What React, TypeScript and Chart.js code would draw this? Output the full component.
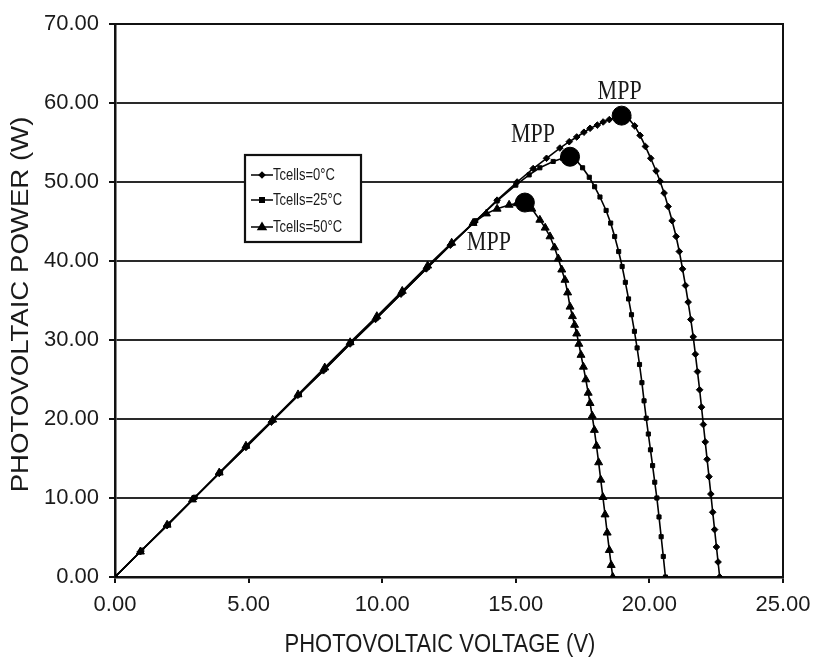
import React, { useEffect, useRef } from 'react';
import { Chart, registerables } from 'chart.js';

Chart.register(...registerables);

// ---- Data ----
const seriesLabels = ['Tcells=0°C', 'Tcells=25°C', 'Tcells=50°C'];

const voltage0 = [0, 0.95, 1.95, 2.95, 3.9, 4.9, 5.85, 6.85, 7.8, 8.8, 9.75, 10.7, 11.65, 12.55, 13.45, 14.3, 15.05, 15.65, 16.15, 16.65, 17.0, 17.28, 17.55, 17.78, 18.05, 18.27, 18.5, 18.75, 18.96, 19.2, 19.45, 19.65, 19.85, 20.05, 20.25, 20.4, 20.55, 20.7, 20.85, 21.0, 21.12, 21.24, 21.35, 21.45, 21.55, 21.64, 21.72, 21.8, 21.88, 21.95, 22.02, 22.09, 22.16, 22.23, 22.3, 22.37, 22.44, 22.51, 22.57, 22.63];
const power0 = [0, 3.2, 6.5, 9.9, 13.1, 16.4, 19.6, 23.0, 26.1, 29.5, 32.6, 35.8, 39.0, 42.0, 44.9, 47.7, 50.0, 51.7, 53.0, 54.3, 55.1, 55.7, 56.3, 56.8, 57.2, 57.6, 57.9, 58.2, 58.4, 58.1, 57.1, 55.9, 54.5, 53.0, 51.4, 50.1, 48.6, 46.9, 45.1, 43.1, 41.2, 39.0, 36.9, 34.8, 32.6, 30.4, 28.2, 26.0, 23.7, 21.5, 19.3, 17.1, 14.9, 12.7, 10.5, 8.2, 6.0, 3.8, 1.9, 0];

const voltage25 = [0, 1.0, 2.0, 3.0, 3.95, 4.95, 5.9, 6.9, 7.85, 8.85, 9.8, 10.75, 11.7, 12.6, 13.5, 14.3, 15.0, 15.5, 15.9, 16.4, 16.75, 17.03, 17.25, 17.5, 17.75, 17.95, 18.15, 18.38, 18.55, 18.7, 18.85, 18.98, 19.1, 19.22, 19.33, 19.44, 19.54, 19.63, 19.72, 19.8, 19.88, 19.96, 20.04, 20.12, 20.2, 20.28, 20.36, 20.44, 20.52, 20.6];
const power25 = [0, 3.4, 6.7, 10.1, 13.3, 16.6, 19.8, 23.1, 26.3, 29.7, 32.8, 36.0, 39.2, 42.2, 45.1, 47.6, 49.6, 50.9, 51.8, 52.6, 53.0, 53.2, 52.8, 51.8, 50.6, 49.4, 48.1, 46.4, 44.8, 43.1, 41.2, 39.3, 37.3, 35.2, 33.2, 31.1, 29.0, 26.9, 24.6, 22.3, 20.1, 18.1, 16.1, 14.1, 12.0, 10.0, 7.6, 5.1, 2.6, 0];

const voltage50 = [0, 0.95, 1.95, 2.9, 3.9, 4.9, 5.9, 6.85, 7.85, 8.8, 9.8, 10.75, 11.7, 12.6, 13.4, 13.9, 14.3, 14.75, 15.05, 15.34, 15.6, 15.9, 16.1, 16.28, 16.45, 16.59, 16.72, 16.84, 16.94, 17.03, 17.12, 17.2, 17.28, 17.36, 17.44, 17.53, 17.62, 17.71, 17.78, 17.86, 17.94, 18.02, 18.1, 18.18, 18.26, 18.34, 18.42, 18.5, 18.57, 18.63];
const power50 = [0, 3.2, 6.6, 9.8, 13.2, 16.6, 19.9, 23.1, 26.5, 29.7, 33.0, 36.2, 39.4, 42.3, 44.8, 46.0, 46.6, 47.1, 47.3, 47.4, 46.6, 45.2, 44.2, 43.1, 41.7, 40.3, 38.9, 37.6, 36.0, 34.2, 33.0, 31.9, 30.8, 29.5, 28.1, 26.6, 25.0, 23.3, 22.0, 20.4, 18.6, 16.6, 14.5, 12.3, 10.1, 7.9, 5.6, 3.4, 1.5, 0];

const mppVoltage = [18.96, 17.03, 15.34];
const mppPower = [58.4, 53.2, 47.4];
const mppText = 'MPP';

const xTitle = 'PHOTOVOLTAIC VOLTAGE (V)';
const yTitle = 'PHOTOVOLTAIC POWER (W)';

const SANS = '"Liberation Sans", Arial, sans-serif';
const SERIF = '"Liberation Serif", "Times New Roman", serif';
const INK = '#1a1a1a';

function toPoints(v: number[], p: number[]) {
  return v.map((x, i) => ({ x, y: p[i] }));
}

function drawMarker(ctx: CanvasRenderingContext2D, kind: number, x: number, y: number) {
  ctx.beginPath();
  if (kind === 0) {
    const r = 3.8;
    ctx.moveTo(x, y - r); ctx.lineTo(x + r, y); ctx.lineTo(x, y + r); ctx.lineTo(x - r, y); ctx.closePath();
  } else if (kind === 1) {
    const r = 3;
    ctx.rect(x - r, y - r, 2 * r, 2 * r);
  } else {
    const r = 5.5;
    ctx.moveTo(x, y - r); ctx.lineTo(x + r * 0.95, y + r * 0.6); ctx.lineTo(x - r * 0.95, y + r * 0.6); ctx.closePath();
  }
  ctx.fill();
}

const overlayPlugin = {
  id: 'overlay',
  afterDatasetsDraw(chart: any) {
    const { ctx, chartArea: a, scales } = chart;
    ctx.save();
    // top & right border of plot box
    ctx.strokeStyle = '#111';
    ctx.lineWidth = 2;
    ctx.beginPath();
    ctx.moveTo(a.left, a.top);
    ctx.lineTo(a.right, a.top);
    ctx.lineTo(a.right, a.bottom);
    ctx.stroke();

    // MPP labels
    const offsets = [[-2, -24], [-37, -22], [-36, 40]];
    ctx.fillStyle = INK;
    ctx.textAlign = 'center';
    ctx.textBaseline = 'middle';
    ctx.font = `22px ${SERIF}`;
    mppVoltage.forEach((v, i) => {
      const px = scales.x.getPixelForValue(v) + offsets[i][0];
      const py = scales.y.getPixelForValue(mppPower[i]) + offsets[i][1];
      ctx.save();
      ctx.translate(px, py);
      ctx.scale(1, 1.25);
      ctx.fillText(mppText, 0, 0);
      ctx.restore();
    });

    // Legend box
    const lx = a.left + 130, ly = a.top + 131, lw = 116, lh = 87;
    ctx.fillStyle = '#fff';
    ctx.fillRect(lx, ly, lw, lh);
    ctx.strokeStyle = '#111';
    ctx.lineWidth = 2.2;
    ctx.strokeRect(lx, ly, lw, lh);
    const rows = [20, 45, 72];
    seriesLabels.forEach((label, i) => {
      const y = ly + rows[i];
      ctx.strokeStyle = '#000';
      ctx.lineWidth = 1.5;
      ctx.beginPath();
      ctx.moveTo(lx + 6, y);
      ctx.lineTo(lx + 28, y);
      ctx.stroke();
      ctx.fillStyle = '#000';
      drawMarker(ctx, i, lx + 17, y);
      ctx.fillStyle = INK;
      ctx.textAlign = 'left';
      ctx.textBaseline = 'middle';
      ctx.font = `13px ${SANS}`;
      ctx.save();
      ctx.translate(lx + 28, y + 1);
      ctx.scale(1, 1.2);
      ctx.fillText(label, 0, 0);
      ctx.restore();
    });
    ctx.restore();
  },
  afterDraw(chart: any) {
    const { ctx, chartArea: a } = chart;
    ctx.save();
    ctx.fillStyle = INK;
    ctx.textAlign = 'center';
    ctx.textBaseline = 'middle';
    // x title
    ctx.save();
    ctx.translate((a.left + a.right) / 2 - 9, a.bottom + 68);
    ctx.scale(1, 1.2);
    ctx.font = `22px ${SANS}`;
    ctx.fillText(xTitle, 0, 0);
    ctx.restore();
    // y title
    ctx.save();
    ctx.translate(22, (a.top + a.bottom) / 2 + 4);
    ctx.rotate(-Math.PI / 2);
    ctx.scale(1.2, 1);
    ctx.font = `23px ${SANS}`;
    ctx.fillText(yTitle, 0, 0);
    ctx.restore();
    ctx.restore();
  },
};

export default function App() {
  const canvasRef = useRef<HTMLCanvasElement | null>(null);

  useEffect(() => {
    if (!canvasRef.current) return;
    const lineBase = {
      showLine: true,
      borderColor: '#000',
      borderWidth: 1.6,
      pointBackgroundColor: '#000',
      pointBorderColor: '#000',
      pointBorderWidth: 1,
      tension: 0,
    };
    const chart = new Chart(canvasRef.current, {
      type: 'scatter',
      data: {
        datasets: [
          { ...lineBase, label: seriesLabels[0], data: toPoints(voltage0, power0), pointStyle: 'rectRot', pointRadius: 3.3 },
          { ...lineBase, label: seriesLabels[1], data: toPoints(voltage25, power25), pointStyle: 'rect', pointRadius: 2.9 },
          { ...lineBase, label: seriesLabels[2], data: toPoints(voltage50, power50), pointStyle: 'triangle', pointRadius: 4.6 },
          {
            label: mppText,
            data: toPoints(mppVoltage, mppPower),
            showLine: false,
            pointStyle: 'circle',
            pointRadius: 9.5,
            pointBackgroundColor: '#000',
            pointBorderColor: '#000',
          },
        ],
      },
      options: {
        animation: false,
        responsive: false,
        events: [],
        layout: { padding: { top: 24, right: 30, left: 0, bottom: 0 } },
        plugins: {
          legend: { display: false },
          tooltip: { enabled: false },
          title: { display: false },
        },
        scales: {
          x: {
            type: 'linear',
            min: 0,
            max: 25,
            ticks: {
              stepSize: 5,
              callback: (v: any) => Number(v).toFixed(2),
              font: { family: SANS, size: 22 },
              color: INK,
              padding: 9,
              maxRotation: 0,
            },
            grid: { drawOnChartArea: false, drawTicks: true, tickLength: 6, color: '#111', lineWidth: 2 },
            border: { color: '#111', width: 2.5 },
            afterFit: (s: any) => { s.height = 85; s.paddingLeft = 0; s.paddingRight = 0; },
          },
          y: {
            type: 'linear',
            min: 0,
            max: 70,
            ticks: {
              stepSize: 10,
              callback: (v: any) => Number(v).toFixed(2),
              font: { family: SANS, size: 22 },
              color: INK,
              padding: 10,
            },
            grid: { color: '#2a2a2a', lineWidth: 2, drawTicks: true, tickLength: 6, tickColor: '#111' },
            border: { color: '#111', width: 2.5 },
            afterFit: (s: any) => { s.width = 115; s.paddingTop = 0; s.paddingBottom = 0; },
          },
        },
      },
      plugins: [overlayPlugin],
    } as any);
    return () => chart.destroy();
  }, []);

  return (
    <div style={{ position: 'absolute', left: 0, top: 0, width: 813, height: 662, background: '#fff' }}>
      <canvas ref={canvasRef} width={813} height={662} style={{ display: 'block', width: 813, height: 662 }} />
    </div>
  );
}
